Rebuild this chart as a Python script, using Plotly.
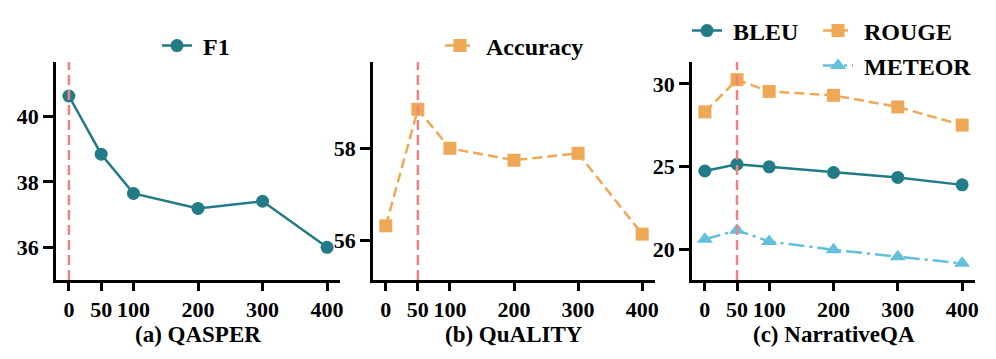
import plotly.graph_objects as go

x_vals = [0, 50, 100, 200, 300, 400]
x_ticks = [0, 50, 100, 200, 300, 400]

qasper_f1 = [40.63, 38.85, 37.65, 37.19, 37.41, 36.0]
quality_acc = [56.31, 58.85, 58.0, 57.74, 57.89, 56.13]
narr_bleu = [24.73, 25.14, 24.98, 24.64, 24.34, 23.89]
narr_rouge = [28.31, 30.26, 29.55, 29.31, 28.61, 27.51]
narr_meteor = [20.6, 21.14, 20.46, 19.96, 19.54, 19.14]

panel_titles = ["(a) QASPER", "(b) QuALITY", "(c) NarrativeQA"]
best_x = [0, 50, 50]

TEAL = "#227B86"
ORANGE = "#EFA855"
BLUE = "#63BFDA"
RED = "#EE8282"

W, H = 996, 359
FAMILY = "Liberation Serif, Times New Roman, serif"
TICK_FONT = dict(family=FAMILY, size=22, color="black", weight="bold")
TITLE_FONT = dict(family=FAMILY, size=23, color="black", weight="bold")
LEG_FONT = dict(family=FAMILY, size=24, color="black", weight="bold")
PAD = "\u00a0"

def px_x(p):
    return p / W

def px_y(p):
    return (H - p) / H

domains = [(56, 340), (373, 655), (692, 975)]
y_dom = [px_y(280), px_y(62)]
y_ranges = [[35.0, 41.67], [55.13, 59.88], [18.13, 31.33]]
y_ticks = [[36, 38, 40], [56, 58], [20, 25, 30]]

fig = go.Figure()

def add(trace_y, name, color, symbol, dash, axis_i, legend, size=13):
    fig.add_trace(go.Scatter(
        x=x_vals, y=trace_y, name=PAD + name, mode="lines+markers",
        line=dict(color=color, width=2.5, dash=dash),
        marker=dict(color=color, size=size, symbol=symbol, line=dict(width=0)),
        xaxis="x" if axis_i == 1 else f"x{axis_i}",
        yaxis="y" if axis_i == 1 else f"y{axis_i}",
        legend=legend,
    ))

add(qasper_f1, "F1", TEAL, "circle", "solid", 1, "legend")
add(quality_acc, "Accuracy", ORANGE, "square", "10px,5px", 2, "legend2")
add(narr_bleu, "BLEU", TEAL, "circle", "solid", 3, "legend3")
add(narr_rouge, "ROUGE", ORANGE, "square", "10px,5px", 3, "legend4")
add(narr_meteor, "METEOR", BLUE, "triangle-up", "16px,5px,3px,5px", 3, "legend5", size=14)

layout = dict(
    width=W, height=H,
    margin=dict(l=0, r=0, t=0, b=0, autoexpand=False),
    paper_bgcolor="white", plot_bgcolor="white",
    font=TICK_FONT,
    showlegend=True,
)

for i, (a, b) in enumerate(domains):
    k = "" if i == 0 else str(i + 1)
    layout[f"xaxis{k}"] = dict(
        domain=[px_x(a), px_x(b)], range=[-20, 420],
        tickvals=x_ticks, ticktext=[str(t) for t in x_ticks],
        showline=True, linewidth=2.5, linecolor="black",
        ticks="outside", ticklen=8, tickwidth=2.5, tickcolor="black",
        showgrid=False, zeroline=False, anchor=f"y{k}", fixedrange=True,
        tickfont=TICK_FONT, automargin=False,
    )
    layout[f"yaxis{k}"] = dict(
        domain=y_dom, range=y_ranges[i], tickvals=y_ticks[i],
        showline=True, linewidth=2.5, linecolor="black",
        ticks="outside", ticklen=10, tickwidth=2.5, tickcolor="black",
        showgrid=False, zeroline=False, anchor=f"x{k}", fixedrange=True,
        tickfont=TICK_FONT, automargin=False,
    )

leg_common = dict(font=LEG_FONT, bgcolor="rgba(0,0,0,0)", orientation="h",
                  xanchor="left", yanchor="middle", borderwidth=0)
layout["legend"] = dict(leg_common, x=px_x(157), y=px_y(46))
layout["legend2"] = dict(leg_common, x=px_x(440), y=px_y(46))
layout["legend3"] = dict(leg_common, x=px_x(687), y=px_y(31))
layout["legend4"] = dict(leg_common, x=px_x(818), y=px_y(31))
layout["legend5"] = dict(leg_common, x=px_x(818), y=px_y(66))

fig.update_layout(**layout)

for i, (a, b) in enumerate(domains):
    k = "" if i == 0 else str(i + 1)
    fig.add_shape(type="line", xref=f"x{k}", yref=f"y{k} domain",
                  x0=best_x[i], x1=best_x[i], y0=0, y1=1,
                  line=dict(color=RED, width=2.5, dash="10px,5px"), layer="above")
    fig.add_annotation(text=panel_titles[i], x=px_x((a + b) / 2), y=px_y(334),
                       xref="paper", yref="paper", showarrow=False,
                       xanchor="center", yanchor="middle", font=TITLE_FONT)

fig.write_html("out.html", config={"displayModeBar": False})

# remove the default page margin so the figure sits at the window's top-left corner
with open("out.html", "r", encoding="utf-8") as f:
    html = f.read()
html = html.replace("<body>", '<body style="margin:0;padding:0;overflow:hidden">', 1)
with open("out.html", "w", encoding="utf-8") as f:
    f.write(html)
